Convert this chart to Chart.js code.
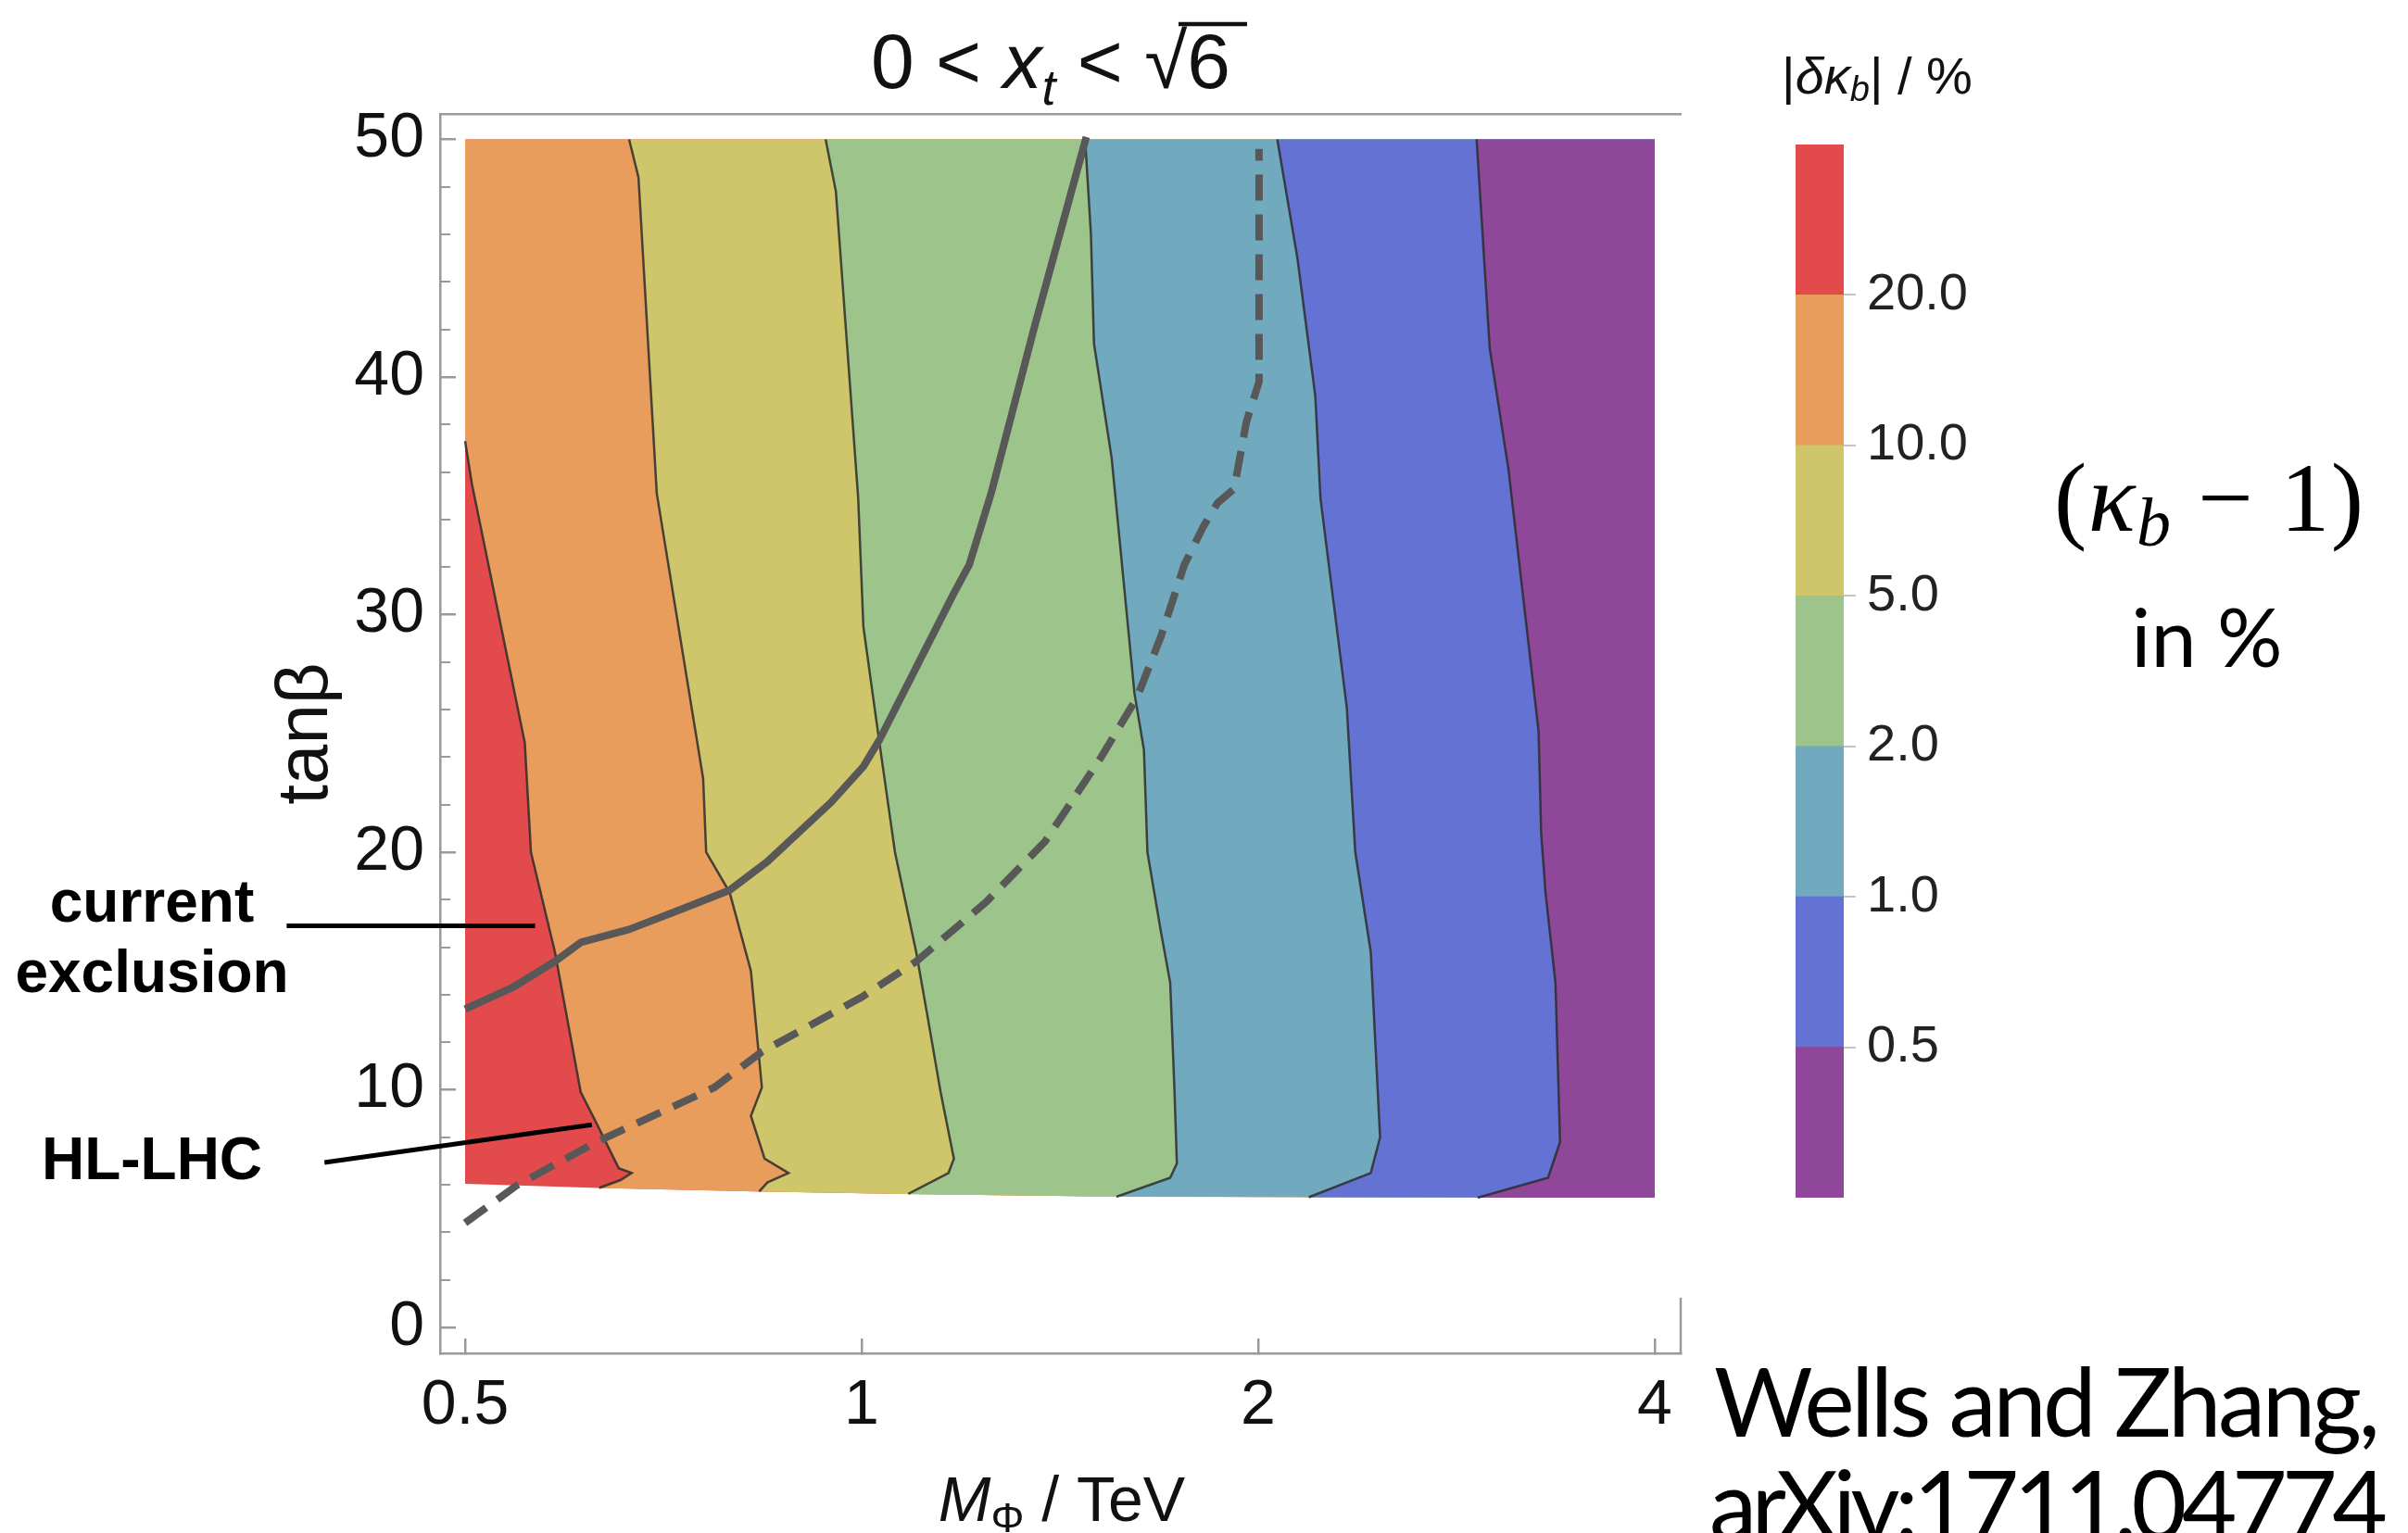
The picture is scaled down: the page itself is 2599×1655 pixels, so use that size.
<!DOCTYPE html>
<html>
<head>
<meta charset="utf-8">
<script src="https://cdn.jsdelivr.net/npm/chart.js@4/dist/chart.umd.min.js"></script>
<style>
  html, body { margin: 0; padding: 0; background: #fff; }
  body { width: 2599px; height: 1655px; position: relative; overflow: hidden; }
  canvas, svg { position: absolute; }
  #main { left: 0; top: 0; width: 2599px; height: 1655px; }
  #bar { left: 1900px; top: 100px; width: 300px; height: 1250px; }
  #overlay { left: 0; top: 0; pointer-events: none; }
</style>
</head>
<body>
<canvas id="main" width="2599" height="1655"></canvas>
<canvas id="bar" width="300" height="1250"></canvas>
<svg id="overlay" width="2599" height="1655" font-family="'Liberation Sans', Arial, sans-serif" fill="#111">
  <!-- title -->
  <text x="1134" y="95" font-size="84" text-anchor="middle">0 &lt; <tspan font-style="italic">x</tspan><tspan font-style="italic" font-size="54" dy="18">t</tspan><tspan dy="-18"> &lt; √6</tspan></text>
  <line x1="1272" y1="26" x2="1346" y2="26" stroke="#111" stroke-width="4.5"/>
  <!-- x axis title -->
  <text x="1146" y="1642" font-size="68" text-anchor="middle"><tspan font-style="italic">M</tspan><tspan font-size="45" dy="12">Φ</tspan><tspan dy="-12"> / TeV</tspan></text>
  <!-- annotations -->
  <g font-weight="bold" font-size="64" text-anchor="middle" fill="#000">
    <text x="164" y="995">current</text>
    <text x="164" y="1071">exclusion</text>
    <text x="164" y="1273">HL-LHC</text>
  </g>
  <!-- colour bar title -->
  <text x="2026" y="101" font-size="56" text-anchor="middle">|<tspan font-style="italic">δκ</tspan><tspan font-style="italic" font-size="38" dy="8">b</tspan><tspan dy="-8">| / %</tspan></text>
  <!-- side notes -->
  <text x="2384" y="573" font-family="'Liberation Serif', 'DejaVu Serif', serif" font-size="106" text-anchor="middle" fill="#000" textLength="334" lengthAdjust="spacing">(<tspan font-style="italic">κ</tspan><tspan font-style="italic" font-size="74" dy="16">b</tspan><tspan dy="-16"> − 1)</tspan></text>
  <text x="2382" y="720" font-family="Lato, 'Noto Sans', sans-serif" font-size="88" text-anchor="middle" fill="#000">in %</text>
  <text x="1850" y="1551" font-family="Lato, 'Noto Sans', sans-serif" font-size="103" fill="#000" textLength="719" lengthAdjust="spacing">Wells and Zhang,</text>
  <text x="1845" y="1662" font-family="Lato, 'Noto Sans', sans-serif" font-size="103" fill="#000" textLength="732" lengthAdjust="spacing">arXiv:1711.04774</text>
  <!-- short right frame piece -->
  <line x1="1814" y1="1401" x2="1814" y2="1462" stroke="#9a9a9a" stroke-width="2.5"/>
</svg>
<script>
// frame ranges and ticks
const massRange = [0.4786, 4.186];
const tanbRange = [-1.09, 51.07];
const massTicks = [0.5, 1, 2, 4];
const tanbTicks = [0, 10, 20, 30, 40, 50];
const tanbMinorTicks = [2, 4, 6, 8, 12, 14, 16, 18, 22, 24, 26, 28, 32, 34, 36, 38, 42, 44, 46, 48];

// |δκ_b| colour levels, bottom to top of the bar
const levelLabels = ['0.5', '1.0', '2.0', '5.0', '10.0', '20.0'];
const bandColors = ['#8f4799', '#6472d3', '#71aabf', '#9dc58b', '#cfc56a', '#e99d5d', '#e24a4b'];

// outline of the scanned region
const scanTop = 50;
const scanLeft = [{x: 0.5, y: 50}, {x: 0.5, y: 6.04}];
const scanBottom = [
  {x: 0.5, y: 6.04}, {x: 0.631, y: 5.87}, {x: 0.83, y: 5.72},
  {x: 1.08, y: 5.62}, {x: 1.55, y: 5.51}, {x: 4, y: 5.46},
];

// contour lines (M / TeV, tanβ), top to bottom
const contour20 = [
  {x: 0.5, y: 37.3}, {x: 0.506, y: 35.5}, {x: 0.555, y: 24.6}, {x: 0.561, y: 20.0},
  {x: 0.585, y: 15.8}, {x: 0.612, y: 9.9}, {x: 0.629, y: 8.6}, {x: 0.654, y: 6.7},
  {x: 0.669, y: 6.5}, {x: 0.656, y: 6.2}, {x: 0.632, y: 5.87},
];
const contour10 = [
  {x: 0.666, y: 50}, {x: 0.677, y: 48.4}, {x: 0.699, y: 35.1}, {x: 0.758, y: 23.1},
  {x: 0.762, y: 20.0}, {x: 0.794, y: 18.3}, {x: 0.824, y: 15.0}, {x: 0.840, y: 10.1},
  {x: 0.824, y: 8.9}, {x: 0.844, y: 7.1}, {x: 0.880, y: 6.5}, {x: 0.848, y: 6.1},
  {x: 0.836, y: 5.72},
];
const contour5 = [
  {x: 0.939, y: 50}, {x: 0.956, y: 47.8}, {x: 0.994, y: 34.9}, {x: 1.003, y: 29.5},
  {x: 1.031, y: 24.7}, {x: 1.060, y: 20.0}, {x: 1.100, y: 15.8}, {x: 1.122, y: 13.1},
  {x: 1.148, y: 9.9}, {x: 1.175, y: 7.1}, {x: 1.164, y: 6.5}, {x: 1.085, y: 5.62},
];
const contour2 = [
  {x: 1.478, y: 50}, {x: 1.493, y: 46.0}, {x: 1.501, y: 41.4}, {x: 1.548, y: 36.6},
  {x: 1.611, y: 26.7}, {x: 1.638, y: 24.3}, {x: 1.648, y: 20.0}, {x: 1.688, y: 16.6},
  {x: 1.715, y: 14.5}, {x: 1.728, y: 9.9}, {x: 1.735, y: 6.9}, {x: 1.715, y: 6.3},
  {x: 1.561, y: 5.5},
];
const contour1 = [
  {x: 2.068, y: 50}, {x: 2.142, y: 45.0}, {x: 2.210, y: 39.2}, {x: 2.230, y: 34.9},
  {x: 2.335, y: 26.1}, {x: 2.370, y: 20.0}, {x: 2.435, y: 15.8}, {x: 2.475, y: 8.0},
  {x: 2.435, y: 6.5}, {x: 2.185, y: 5.48},
];
const contour05 = [
  {x: 2.93, y: 50}, {x: 2.998, y: 41.2}, {x: 3.098, y: 36.1}, {x: 3.265, y: 25.1},
  {x: 3.28, y: 20.8}, {x: 3.305, y: 18.3}, {x: 3.363, y: 14.5}, {x: 3.39, y: 7.8},
  {x: 3.32, y: 6.3}, {x: 2.935, y: 5.46},
];

// exclusion curves
const currentExclusion = [
  {x: 0.5, y: 13.4}, {x: 0.543, y: 14.3}, {x: 0.585, y: 15.4}, {x: 0.612, y: 16.2},
  {x: 0.666, y: 16.75}, {x: 0.730, y: 17.6}, {x: 0.794, y: 18.4}, {x: 0.848, y: 19.6},
  {x: 0.948, y: 22.1}, {x: 1.003, y: 23.6}, {x: 1.031, y: 24.7}, {x: 1.175, y: 30.9},
  {x: 1.207, y: 32.1}, {x: 1.254, y: 35.1}, {x: 1.351, y: 42.0}, {x: 1.481, y: 50.1},
];
const hlLhcReach = [
  {x: 0.5, y: 4.4}, {x: 0.548, y: 6.0}, {x: 0.629, y: 7.8}, {x: 0.773, y: 10.1},
  {x: 0.840, y: 11.6}, {x: 1.0, y: 13.9}, {x: 1.100, y: 15.4}, {x: 1.243, y: 17.9},
  {x: 1.378, y: 20.45}, {x: 1.52, y: 24.0}, {x: 1.618, y: 26.5}, {x: 1.688, y: 29.1},
  {x: 1.758, y: 32.1}, {x: 1.817, y: 33.7}, {x: 1.863, y: 34.7}, {x: 1.918, y: 35.3},
  {x: 1.959, y: 38.1}, {x: 2.003, y: 39.8}, {x: 2.003, y: 49.6},
];

// label pointers
const currentPointer = [{x: 0.366, y: 16.9}, {x: 0.565, y: 16.9}];
const hlLhcPointer = [{x: 0.391, y: 6.94}, {x: 0.624, y: 8.53}];

const FONT = "'Liberation Sans', Arial, sans-serif";
const AXIS_GREY = '#9a9a9a';

// everything right of an edge, down to the bottom of the scan (painted in order)
function bandShape(edge) {
  const mLo = scanBottom[0].x;
  const mHi = scanBottom[scanBottom.length - 1].x;
  const first = edge[0];
  const last = edge[edge.length - 1];
  const pts = [];
  if (first.x > mLo) pts.push({x: mLo, y: first.y});
  pts.push(...edge);
  scanBottom.filter((p) => p.x > last.x).forEach((p) => pts.push(p));
  pts.push({x: mHi, y: scanTop});
  return pts;
}

const bandEdges = [
  scanLeft,
  [{x: 0.5, y: scanTop}].concat(contour20),
  contour10, contour5, contour2, contour1, contour05,
];

const datasets = [];
bandEdges.forEach((edge, i) => {
  datasets.push({
    data: bandShape(edge),
    backgroundColor: bandColors[bandColors.length - 1 - i],
    borderWidth: 0,
    fill: 'shape',
    pointRadius: 0,
    order: 20 - i,
  });
});

[contour20, contour10, contour5, contour2, contour1, contour05].forEach((c) => {
  datasets.push({
    data: c, borderColor: 'rgba(45,45,45,0.85)', borderWidth: 2.5,
    fill: false, pointRadius: 0, order: 2,
  });
});

datasets.push({
  data: currentExclusion, borderColor: '#585858', borderWidth: 8,
  fill: false, pointRadius: 0, order: 1, borderJoinStyle: 'round',
});
datasets.push({
  data: hlLhcReach, borderColor: '#585858', borderWidth: 8, borderDash: [28, 15],
  fill: false, pointRadius: 0, order: 1,
});
[currentPointer, hlLhcPointer].forEach((p) => {
  datasets.push({
    data: p, borderColor: '#000', borderWidth: 5, fill: false,
    pointRadius: 0, order: 0, clip: false,
  });
});

new Chart(document.getElementById('main'), {
  type: 'line',
  data: { datasets },
  options: {
    responsive: false,
    animation: false,
    events: [],
    layout: { padding: { left: 285, top: 123, right: 785, bottom: 74 } },
    plugins: { legend: { display: false }, tooltip: { enabled: false } },
    scales: {
      x: {
        type: 'logarithmic', position: 'bottom', min: massRange[0], max: massRange[1], bounds: 'data',
        afterBuildTicks: (s) => { s.ticks = massTicks.map((v) => ({ value: v })); },
        afterFit: (s) => { s.height = 120; },
        ticks: { font: { family: FONT, size: 68 }, color: '#111', padding: 32, autoSkip: false, maxRotation: 0,
          callback: (v) => String(v) },
        grid: { drawOnChartArea: false, tickLength: -16, color: AXIS_GREY, lineWidth: 2.5 },
        border: { color: AXIS_GREY, width: 2.5 },
      },
      xTop: {
        type: 'logarithmic', position: 'top', min: massRange[0], max: massRange[1], bounds: 'data',
        afterBuildTicks: (s) => { s.ticks = []; },
        afterFit: (s) => { s.height = 0; },
        ticks: { display: false },
        grid: { drawOnChartArea: false, drawTicks: false, color: AXIS_GREY },
        border: { color: AXIS_GREY, width: 2.5 },
      },
      y: {
        type: 'linear', position: 'left', min: tanbRange[0], max: tanbRange[1], bounds: 'data', weight: 1,
        afterBuildTicks: (s) => { s.ticks = tanbTicks.map((v) => ({ value: v })); },
        afterFit: (s) => { s.width = 190; },
        ticks: { font: { family: FONT, size: 68 }, color: '#111', padding: 34, autoSkip: false },
        grid: { drawOnChartArea: false, tickLength: -17, color: AXIS_GREY, lineWidth: 2.5 },
        border: { color: AXIS_GREY, width: 2.5 },
        title: { display: true, text: 'tanβ', font: { family: FONT, size: 78 }, color: '#111', padding: 0 },
      },
      yMinor: {
        type: 'linear', position: 'left', min: tanbRange[0], max: tanbRange[1], bounds: 'data', weight: 0,
        afterBuildTicks: (s) => { s.ticks = tanbMinorTicks.map((v) => ({ value: v })); },
        afterFit: (s) => { s.width = 0; },
        ticks: { display: false },
        grid: { drawOnChartArea: false, tickLength: -11, color: AXIS_GREY, lineWidth: 2 },
        border: { display: false },
      },
    },
  },
});

// colour bar
new Chart(document.getElementById('bar'), {
  type: 'bar',
  data: {
    labels: [''],
    datasets: bandColors.map((c) => ({ data: [1], backgroundColor: c, borderWidth: 0 })),
  },
  options: {
    responsive: false,
    animation: false,
    events: [],
    barPercentage: 1,
    categoryPercentage: 1,
    layout: { padding: { left: 38, top: 56, right: 0, bottom: 57 } },
    plugins: { legend: { display: false }, tooltip: { enabled: false } },
    scales: {
      x: { display: false, stacked: true },
      y: {
        stacked: true, position: 'right', min: 0, max: bandColors.length, bounds: 'data',
        afterBuildTicks: (s) => { s.ticks = levelLabels.map((_, i) => ({ value: i + 1 })); },
        afterFit: (s) => { s.width = 210; },
        ticks: { font: { family: FONT, size: 56 }, color: '#222', padding: 12, autoSkip: false,
          callback: (v, i) => levelLabels[i] },
        grid: { drawOnChartArea: false, tickLength: 13, color: '#c4c4c4', lineWidth: 2 },
        border: { display: false },
      },
    },
  },
});
</script>
</body>
</html>
